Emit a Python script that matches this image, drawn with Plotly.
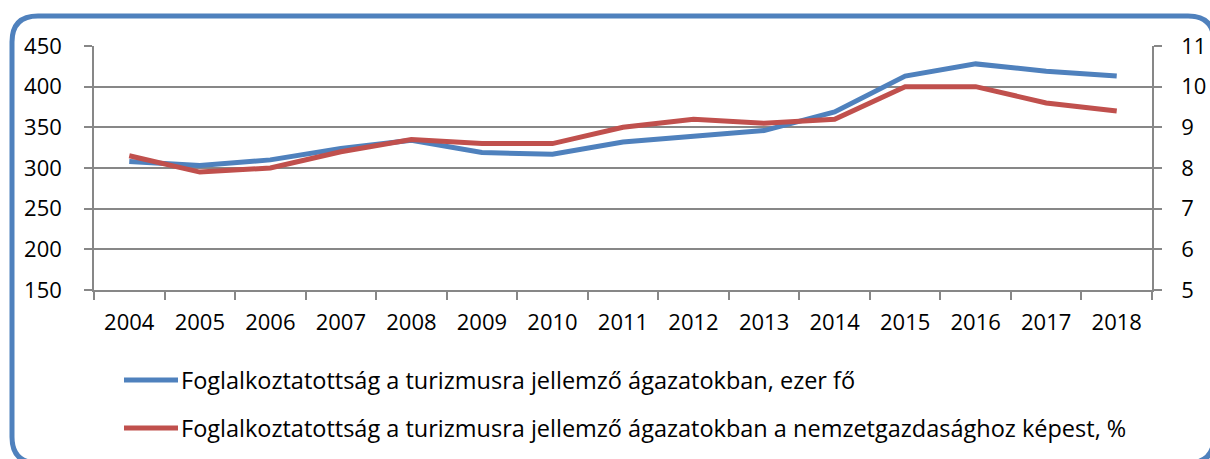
import plotly.graph_objects as go

years = [str(y) for y in range(2004, 2019)]
employment = [308, 303, 310, 324, 334, 319, 317, 332, 339, 346, 369, 413, 428, 419, 413]
share_pct = [8.3, 7.9, 8.0, 8.4, 8.7, 8.6, 8.6, 9.0, 9.2, 9.1, 9.2, 10.0, 10.0, 9.6, 9.4]
name_emp = "Foglalkoztatottság a turizmusra jellemző ágazatokban, ezer fő"
name_share = "Foglalkoztatottság a turizmusra jellemző ágazatokban a nemzetgazdasághoz képest, %"

BLUE = "#4F81BD"
RED = "#C0504D"

W, H = 1210, 459
L, R, T, B = 94, 1152, 46, 290
FONT = "Open Sans"
GRID = "#878787"
TICK_SIZE = 22
LEG_SIZE = 23.5

def px_x(p):
    return (p - L) / (R - L)

def px_y(p):
    return (B - p) / (B - T)

def rounded_rect(x0, y0, x1, y1, r):
    pts = []
    pts.append(f"M{px_x(x0 + r)},{px_y(y0)}")
    pts.append(f"L{px_x(x1 - r)},{px_y(y0)}")
    pts.append(f"Q{px_x(x1)},{px_y(y0)} {px_x(x1)},{px_y(y0 + r)}")
    pts.append(f"L{px_x(x1)},{px_y(y1 - r)}")
    pts.append(f"Q{px_x(x1)},{px_y(y1)} {px_x(x1 - r)},{px_y(y1)}")
    pts.append(f"L{px_x(x0 + r)},{px_y(y1)}")
    pts.append(f"Q{px_x(x0)},{px_y(y1)} {px_x(x0)},{px_y(y1 - r)}")
    pts.append(f"L{px_x(x0)},{px_y(y0 + r)}")
    pts.append(f"Q{px_x(x0)},{px_y(y0)} {px_x(x0 + r)},{px_y(y0)}")
    pts.append("Z")
    return " ".join(pts)

fig = go.Figure()
fig.add_trace(go.Scatter(x=years, y=employment, name=name_emp, mode="lines",
                         line=dict(color=BLUE, width=5)))
fig.add_trace(go.Scatter(x=years, y=share_pct, name=name_share, mode="lines",
                         line=dict(color=RED, width=5), yaxis="y2"))

shapes = [dict(type="path", xref="paper", yref="paper",
               path=rounded_rect(12, 16, 1214, 463, 26),
               line=dict(color=BLUE, width=5), layer="below")]
annotations = []
for name, color, ypx in [(name_emp, BLUE, 380), (name_share, RED, 428)]:
    shapes.append(dict(type="line", xref="paper", yref="paper",
                       x0=px_x(124), x1=px_x(178), y0=px_y(ypx), y1=px_y(ypx),
                       line=dict(color=color, width=5)))
    annotations.append(dict(text=name, xref="paper", yref="paper",
                            x=px_x(179), y=px_y(ypx), xanchor="left", yanchor="middle",
                            showarrow=False, font=dict(size=LEG_SIZE, family=FONT, color="#000")))

fig.update_layout(
    width=W, height=H,
    margin=dict(l=L, r=W - R, t=T, b=H - B, autoexpand=False),
    paper_bgcolor="white", plot_bgcolor="white",
    font=dict(family=FONT, size=TICK_SIZE, color="#000000"),
    showlegend=False,
    xaxis=dict(type="category", range=[-0.5, 14.5], tickson="boundaries",
               ticks="outside", ticklen=8, tickcolor=GRID, tickwidth=1.5,
               showline=True, linecolor=GRID, linewidth=1.5, showgrid=False,
               ticklabelstandoff=12, tickfont=dict(size=TICK_SIZE)),
    yaxis=dict(range=[150, 450], dtick=50, tick0=150, ticks="outside", ticklen=8,
               tickcolor=GRID, tickwidth=1.5, showline=True, linecolor=GRID, linewidth=1.5,
               showgrid=True, gridcolor=GRID, gridwidth=1.5, zeroline=False,
               ticklabelstandoff=18, tickfont=dict(size=TICK_SIZE)),
    yaxis2=dict(range=[5, 11], dtick=1, tick0=5, overlaying="y", side="right",
                ticks="outside", ticklen=8, tickcolor=GRID, tickwidth=1.5,
                showline=True, linecolor=GRID, linewidth=1.5, showgrid=False,
                zeroline=False, ticklabelstandoff=15, tickfont=dict(size=TICK_SIZE)),
    shapes=shapes,
    annotations=annotations,
)

fig.write_html("out.html", config={"displayModeBar": False},
               post_script="document.body.style.margin='0';document.body.style.overflow='hidden';")
